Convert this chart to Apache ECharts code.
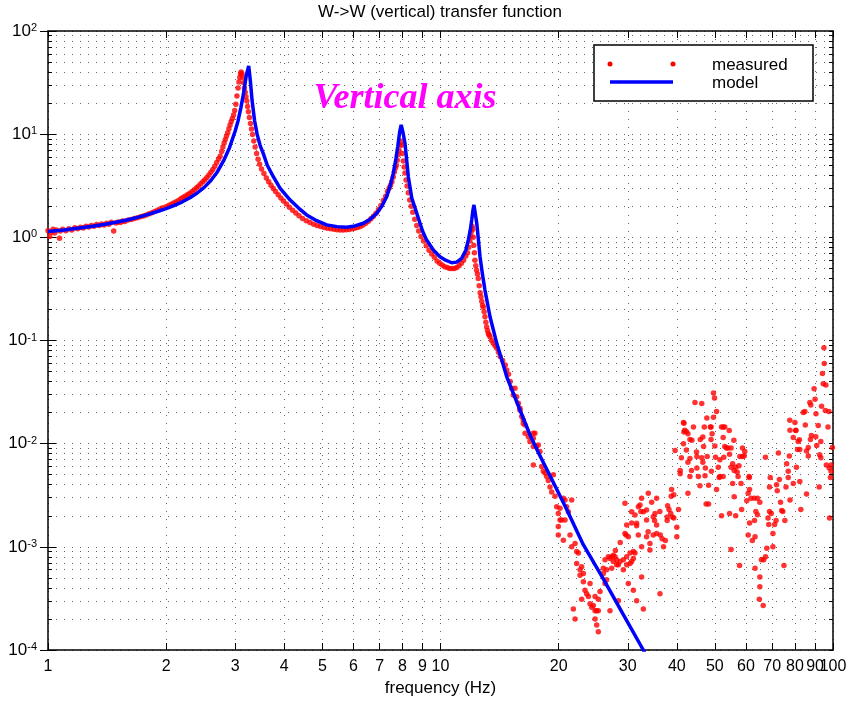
<!DOCTYPE html>
<html><head><meta charset="utf-8">
<script src="https://cdn.jsdelivr.net/npm/echarts@6/dist/echarts.min.js"></script>
<style>html,body{margin:0;padding:0;background:#fff}#c{width:856px;height:703px}</style>
</head><body><div id="c"></div>
<script>
// ---- tick values / labels ----
const xTickValues = [1,2,3,4,5,6,7,8,9,10,20,30,40,50,60,70,80,90,100];
const xTickLabels = ['1','2','3','4','5','6','7','8','9','10','20','30','40','50','60','70','80','90','100'];
const yDecadeExponents = [-4,-3,-2,-1,0,1,2];
const yMinorMultipliers = [2,3,4,5,6,7,8,9];

// ---- model curve [Hz, magnitude] ----
const modelCurve = [
[1.00,1.14],[1.10,1.18],[1.20,1.23],[1.30,1.28],[1.40,1.34],[1.50,1.41],[1.60,1.48],[1.70,1.57],[1.80,1.67],[1.90,1.78],
[2.00,1.90],[2.10,2.04],[2.20,2.21],[2.30,2.42],[2.40,2.69],[2.50,3.05],[2.60,3.55],[2.70,4.30],[2.80,5.5],[2.90,7.4],
[3.00,10.8],[3.05,13.5],[3.10,18.0],[3.15,25],[3.20,37],[3.246,45.8],[3.28,32],[3.31,21.4],[3.36,13.5],[3.41,10.0],
[3.47,7.8],[3.54,6.4],[3.62,5.0],[3.75,3.87],[3.90,3.0],[4.14,2.30],[4.35,1.92],[4.56,1.65],[4.80,1.47],[5.13,1.32],
[5.45,1.27],[5.77,1.25],[6.05,1.29],[6.36,1.37],[6.62,1.50],[6.88,1.71],[7.10,2.02],[7.29,2.47],[7.45,3.2],[7.58,4.17],
[7.70,5.8],[7.78,7.55],[7.87,10.5],[7.94,12.3],[8.02,10.5],[8.12,8.15],[8.20,5.6],[8.28,3.87],[8.45,2.40],[8.70,1.71],
[9.00,1.15],[9.22,0.94],[9.60,0.75],[9.97,0.648],[10.30,0.60],[10.68,0.567],[11.00,0.575],[11.32,0.626],[11.60,0.75],[11.77,0.94],
[11.92,1.2],[12.01,1.47],[12.10,1.85],[12.17,2.06],[12.25,1.75],[12.37,1.37],[12.50,0.92],[12.61,0.648],[12.80,0.43],[12.98,0.308],
[13.37,0.170],[13.91,0.0939],[14.75,0.0445],[15.94,0.0212],[16.90,0.0122],[17.75,0.0082],[19.39,0.0042],[20.97,0.0023],[23.11,0.00105],[25.99,0.00049],
[29.23,0.00022],[32.86,0.0001],[36.2,0.000048]
];

// ---- measured points [Hz, magnitude] ----
const measuredLow = [
[1.00,1.16],[1.01,1.02],[1.02,1.12],[1.03,1.20],[1.04,1.10],[1.05,1.18],[1.07,0.98],[1.075,1.15],[1.09,1.20],[1.11,1.16],[1.13,1.21],[1.15,1.18],[1.17,1.24],[1.19,1.21],[1.21,1.25],[1.23,1.23],[1.25,1.28],[1.27,1.26],[1.29,1.30],[1.31,1.28],[1.33,1.33],[1.35,1.30],[1.37,1.35],[1.39,1.32],[1.41,1.37],[1.43,1.34],[1.45,1.40],[1.47,1.15],[1.49,1.38],[1.51,1.41],[1.53,1.39],[1.55,1.44],[1.57,1.42],[1.60,1.47],[1.63,1.49],[1.66,1.52],[1.69,1.55],[1.72,1.58],[1.75,1.61],[1.78,1.65],[1.81,1.69],[1.84,1.73],[1.87,1.78],[1.90,1.83],[1.93,1.88],[1.96,1.93],
[2.00,1.98],[2.03,2.03],[2.06,2.09],[2.09,2.15],[2.12,2.21],[2.15,2.28],[2.18,2.36],[2.21,2.44],[2.24,2.52],[2.27,2.60],[2.30,2.67],[2.33,2.78],[2.36,2.90],[2.39,3.02],[2.42,3.15],[2.45,3.30],[2.48,3.46],[2.51,3.62],[2.54,3.80],[2.57,4.02],[2.60,4.27],[2.63,4.55],[2.66,4.90],[2.69,5.30],[2.72,5.75],[2.745,6.1],[2.77,6.8],[2.79,7.5],[2.81,8.2],[2.83,8.9],[2.85,9.6],[2.87,10.3],[2.89,11.3],[2.91,12.3],[2.93,13.3],[2.95,14.2],[2.97,15.3],[2.99,17.0],[3.01,19.5],[3.03,23.5],[3.05,28],[3.065,32],[3.08,35.5],[3.095,38.5],[3.105,40],[3.12,38.5],[3.135,35.5],[3.15,31.5],[3.165,28],[3.18,25.5],[3.195,23],[3.21,21],[3.225,18.5],[3.24,16.5],[3.26,14.5],[3.28,12.7],[3.30,11.2],[3.32,9.9],[3.345,8.6],[3.37,7.5],[3.40,6.5],[3.43,5.7],[3.46,5.1],[3.50,4.6],[3.55,4.15],[3.60,3.75],[3.65,3.45],[3.70,3.2],[3.75,2.98],[3.80,2.78],[3.86,2.58],[3.92,2.41],[3.98,2.25],[4.05,2.10],[4.12,1.96],[4.20,1.83],[4.28,1.72],[4.36,1.62],[4.45,1.52],[4.55,1.45],[4.65,1.39],[4.75,1.34],[4.85,1.30],[4.95,1.27],[5.05,1.245],[5.15,1.225],[5.25,1.21],[5.35,1.195],[5.45,1.185],[5.55,1.18],[5.65,1.18],[5.75,1.185],[5.85,1.19],[5.95,1.21],[6.05,1.225],[6.15,1.245],[6.25,1.275],[6.35,1.32],[6.45,1.37],[6.55,1.43],[6.65,1.51],[6.75,1.60],[6.85,1.71],[6.95,1.86],[7.05,2.04],[7.15,2.28],[7.25,2.5],[7.33,2.8],[7.40,3.0],[7.46,3.2],[7.52,3.45],[7.58,3.85],[7.63,4.3],[7.68,4.7],[7.72,5.0],[7.76,5.6],[7.80,6.3],[7.84,7.0],[7.88,7.9],[7.92,8.6],[7.96,7.8],[8.00,6.5],[8.04,5.5],[8.08,4.8],[8.12,4.2],[8.17,3.6],[8.22,3.15],[8.28,2.7],[8.35,2.3],[8.42,2.0],[8.50,1.75],[8.60,1.5],[8.70,1.3],[8.80,1.15],[8.92,1.02],[9.05,0.92],[9.20,0.83],[9.35,0.75],[9.50,0.69],[9.65,0.64],[9.80,0.59],[9.95,0.56],[10.10,0.54],[10.25,0.52],[10.40,0.51],[10.55,0.50],[10.70,0.50],[10.85,0.50],[11.00,0.51],[11.15,0.53],[11.30,0.56],[11.45,0.60],[11.60,0.66],[11.72,0.71],[11.80,0.80],[11.88,0.92],[11.94,1.03],[11.99,1.14],[12.04,1.28],[12.08,1.2],[12.12,1.0],[12.16,0.84],[12.20,0.71],[12.24,0.60],[12.30,0.53],[12.36,0.48],[12.42,0.44],[12.48,0.40],[12.55,0.34],[12.62,0.29],[12.68,0.265],[12.74,0.24],[12.80,0.22],[12.85,0.21],[12.92,0.19],[12.98,0.17],[13.05,0.15],[13.11,0.135],[13.18,0.125],[13.24,0.117],[13.30,0.113],[13.37,0.109],[13.50,0.10],[13.63,0.094],[13.77,0.089],[13.91,0.084]
];
const measuredRolloff = [
[14.05,0.077],[14.19,0.070],[14.40,0.064],[14.62,0.058],[14.75,0.0517],[14.90,0.047],[15.05,0.040],[15.18,0.0344],[15.33,0.0296],[15.48,0.0344],[15.63,0.0285],[15.79,0.0246],[15.94,0.022],[15.94,0.0211],[16.10,0.0183],[16.25,0.0157],[16.25,0.017],[16.42,0.0152],[16.42,0.0126],[16.74,0.0117],[16.90,0.0105],[17.24,0.0113],[17.24,0.0126],[17.40,0.0126],[17.24,0.0094],[17.58,0.0094],[17.75,0.0097],[17.92,0.0084],[17.24,0.0062],[18.10,0.0060],[18.28,0.0054],[18.46,0.0052],[18.64,0.0048],[18.82,0.0044],[19.01,0.0038],[19.20,0.0034],[19.39,0.0050],[19.58,0.0031],[19.77,0.00245],[19.96,0.0021],[20.16,0.00236],[20.56,0.00295],[20.76,0.00284],[20.96,0.00245],[21.17,0.00219],[21.59,0.00284],[20.16,0.00182],[20.36,0.00182],[20.76,0.00182],[19.96,0.00157],[19.96,0.0013],[20.56,0.00116],[21.38,0.0013],[21.59,0.0010],[22.02,0.00108],[22.23,0.0009],[22.45,0.00087],[22.23,0.00069],[22.67,0.0006],[22.89,0.00064],[22.67,0.00053],[23.12,0.00055],[23.12,0.00046],[23.34,0.00038],[23.57,0.00035],[24.04,0.00044],[23.81,0.00033],[24.04,0.00028],[24.28,0.00026],[24.51,0.00027],[24.76,0.00033],[25.24,0.00031],[24.76,0.00024],[25.0,0.00024],[25.24,0.00024],[24.76,0.0002],[25.0,0.000175],[25.24,0.00015],[22.02,0.0002],[21.80,0.00025],[22.89,0.00031],[25.49,0.00037],[26.25,0.00044],[25.99,0.00055],[25.99,0.00062],[26.25,0.00075],[26.77,0.0008],[27.03,0.00077],[27.30,0.0008],[27.56,0.00083],[27.84,0.0008],[28.11,0.00075],[28.39,0.00067],[28.67,0.00072],[29.23,0.00075],[29.81,0.0008],[30.4,0.00087],[31.0,0.0009],[31.0,0.00077],[29.81,0.00067],[29.23,0.0006],[30.1,0.00044],[31.0,0.00038],[31.6,0.0003],[32.87,0.00025],[28.39,0.0003],[27.03,0.00024],[29.51,0.00264],[30.69,0.00219],[31.3,0.00203],[31.92,0.00245],[32.23,0.00254],[32.54,0.00295],[32.87,0.00219],[33.5,0.00227],[33.84,0.0033],[34.51,0.0027],[34.84,0.00196],[35.19,0.00211],[35.53,0.00295],[33.5,0.00182],[31.6,0.00169],[29.81,0.00163],[29.51,0.00135],[30.1,0.00125],[31.92,0.0013],[33.5,0.00125],[34.17,0.00108],[34.17,0.00093],[34.84,0.0013],[35.53,0.00135],[35.53,0.00163],[32.54,0.001],[31.3,0.00087],[32.54,0.00051],[36.24,0.00035],[30.69,0.00072],[30.4,0.00069],[27.56,0.00072],[28.11,0.00067],[27.30,0.00062],[26.5,0.0006],[26.5,0.00048],
[27.9,0.00092],[28.7,0.0011],[29.7,0.0013],[30.7,0.0017],[31.6,0.0016],[32.4,0.0022],[33.8,0.0014],[35.1,0.0018]
];
const measuredHigh = [
[36.3,1.3e-3],[36.7,1.2e-3],[37.0,1.0e-3],[37.4,1.15e-3],[37.8,1.95e-3],[37.8,1.8e-3],[38.2,2.3e-3],[38.6,2.1e-3],[39.0,1.95e-3],[39.3,1.9e-3],[38.7,3.1e-3],[39.3,3.2e-3],[40.0,1.55e-3],[40.0,1.25e-3],[39.6,8.6e-3],[40.4,2.3e-3],
[36.2,2.2e-3],[37.9,2.5e-3],[38.8,3.6e-3],[40.8,5.5e-3],
[40.8,5.1e-3],[41.1,7.3e-3],[41.6,1.0e-2],[41.9,1.35e-2],[42.7,1.25e-2],[43.2,1.1e-2],[41.6,1.6e-2],[41.7,1.3e-2],[42.3,8.7e-3],[42.7,6.6e-3],[42.7,3.3e-3],[43.2,4.8e-3],[43.6,5.5e-3],[44.1,1.45e-2],[44.5,2.5e-2],[45.0,5.8e-3],[45.0,7.5e-3],[45.4,4.8e-3],[45.9,1.1e-2],[46.3,2.45e-2],[46.3,7.3e-3],[46.8,9.4e-3],[47.0,1.45e-2],[47.3,5.8e-3],[47.5,2.6e-3],[47.8,7.5e-3],[48.2,2.6e-3],[48.2,3.95e-3],[48.7,1.45e-2],[48.9,1.1e-2],[49.2,1.25e-2],[49.6,1.8e-2],[49.6,3.1e-2],[50.0,9.5e-3],[50.5,2.05e-2],[50.5,3.6e-3],[51.0,5.9e-3],[51.5,4.8e-3],[52.0,2.0e-3],[52.0,1.45e-2],[52.5,1.45e-2],[52.5,1.15e-2],[53.0,1.45e-2],[51.5,7e-3],[52.5,4.8e-3],[53.0,9.4e-3],[53.5,9.1e-3],[54.0,9.1e-3],[54.5,7.9e-3],[55.0,9.1e-3],[55.5,6.4e-3],[55.0,5.9e-3],[55.5,4.1e-3],[56.0,5.5e-3],[56.5,5.9e-3],[57.0,5.3e-3],[57.3,4.8e-3],[57.9,7.5e-3],[58.3,4.1e-3],[58.8,7.5e-3],[58.8,9.1e-3],[59.6,8.4e-3],[55.0,9.4e-4],[57.8,6.6e-4],[54.5,2.1e-3],[56.5,2.0e-3],[56.0,3.05e-3],[58.5,2.3e-3],
[41.7,1.58e-2],[42.3,1.31e-2],[43.7,1.08e-2],[44.9,8.3e-3],[46.6,1.16e-2],[47.7,1.77e-2],[48.9,1.45e-2],[49.9,2.77e-2],[46.6,6.6e-3],[43.2,7.2e-3],[45.8,3.9e-3],[47.2,4.9e-3],[49.0,5.4e-3],[50.2,7.4e-3],[51.3,4.7e-3],[52.7,7.4e-3],[54.4,1.34e-2],[55.9,1.08e-2],[57.6,6.1e-3],[59.4,7.6e-3],
[60.3,2.8e-3],[60.8,3.3e-3],[61.3,3.6e-3],[61.1,4.8e-3],[61.8,2.95e-3],[63.0,2.95e-3],[64.2,2.95e-3],[63.6,2.2e-3],[64.2,2.05e-3],[61.3,1.7e-3],[60.8,1.3e-3],[62.3,1.15e-3],[63.3,1.25e-3],[65.1,5.1e-4],[65.1,4.1e-4],[64.9,3.1e-4],[66.4,2.7e-4],[63.3,6.2e-4],[65.7,7.5e-4],[66.6,7.5e-4],[67.3,8e-4],[67.8,9.7e-4],[68.3,1.9e-3],[68.6,1.65e-3],[68.9,3.8e-3],[68.9,2.2e-3],[69.6,2.1e-3],[70.3,1.0e-3],[71.0,1.65e-3],[70.3,1.35e-3],[71.8,4.0e-3],[72.1,3.5e-3],[73.0,4.5e-3],[72.6,8.1e-3],[74.0,2.25e-3],[74.5,2.2e-3],[75.4,1.8e-3],[75.0,6.6e-4],[76.2,6.4e-3],[76.9,5.4e-3],[76.9,4.7e-3],[77.4,7.6e-3],[77.7,2.85e-3],[77.7,1.35e-2],[79.2,1.15e-2],[79.2,4.1e-3],[80.0,1.6e-2],[80.4,1.35e-2],[80.7,5.9e-3],[81.2,8.8e-3],[81.5,1.05e-2],[82.3,8.8e-3],[82.3,4.3e-3],[82.8,2.3e-3],[84.0,2.0e-2],[84.8,2.05e-2],[85.6,8.5e-3],[85.6,3.25e-3],[86.5,9.2e-3],[86.5,7.6e-3],[87.3,2.5e-2],[87.6,1.1e-2],[88.1,1.2e-2],[89.5,3.4e-2],[90.0,2.7e-2],[90.5,1.95e-2],[90.9,9.6e-3],[91.7,1.5e-2],[92.2,3.8e-3],[93.1,1.05e-2],[93.1,7.3e-3],[93.5,2.3e-2],[94.0,4.8e-2],[94.4,3.8e-2],[94.8,8.5e-2],[95.0,6.0e-2],[95.9,3.7e-2],[96.2,6.2e-3],[97.1,1.45e-2],[97.6,2.05e-2],[98.0,1.9e-3],[98.5,4.7e-3],[98.9,6.2e-3],[98.9,5.4e-3],[99.6,9.2e-3],
[61.2,4.7e-3],[63.1,1.8e-3],[65.1,2.7e-3],[67.3,7.4e-3],[69.2,4.7e-3],[71.6,1.8e-3],[73.5,2.7e-3],[75.9,3.8e-3],[77.6,1.69e-2],[80.4,1.34e-2],[82.1,1.09e-2],[85.0,1.52e-2],[87.8,2.37e-2],[90.4,1.17e-2],[92.5,7.8e-3],[95.6,2.1e-2],[97.8,5.8e-3]
];

// ---- build ----
const FONT = '"Liberation Sans", Arial, sans-serif';
const toLog = p => [Math.log10(p[0]), Math.log10(p[1])];
const xLog = xTickValues.map(v => Math.log10(v));
const xLabelLogMain = xLog.slice(0, -1);   // 1 ... 90
const xLabelLogLast = xLog.slice(-1);      // 100 (own axis so the overlapping labels are all kept)
const yMajorLog = yDecadeExponents.slice();
const yAllLog = yDecadeExponents.slice();
yDecadeExponents.slice(0, -1).forEach(d => yMinorMultipliers.forEach(k => yAllLog.push(d + Math.log10(k))));
yAllLog.sort((a, b) => a - b);
const labelMap = {};
xTickValues.forEach((v, i) => { labelMap[v] = xTickLabels[i]; });
const xFmt = v => labelMap[Math.round(Math.pow(10, v))] || '';

const gridDots = { show: true, lineStyle: { color: '#000', width: 1, type: [1, 7], opacity: 0.6 } };
const frame = { show: true, onZero: false, lineStyle: { color: '#000', width: 1.5 } };
const noLabel = { show: false };
const xLabelStyle = { margin: 9, fontSize: 16, color: '#000', fontFamily: FONT, hideOverlap: false };

const chart = echarts.init(document.getElementById('c'), null, { renderer: 'canvas' });
chart.setOption({
  animation: false,
  backgroundColor: '#fff',
  grid: { left: 48, right: 23, top: 31, bottom: 53, containLabel: false, outerBoundsMode: 'none' },
  xAxis: [
    { type: 'value', min: 0, max: 2, position: 'bottom',
      axisLine: frame,
      axisTick: { show: true, inside: true, length: 7, customValues: xLog, lineStyle: { color: '#000', width: 1 } },
      axisLabel: Object.assign({ show: true, customValues: xLabelLogMain, formatter: xFmt }, xLabelStyle),
      splitLine: gridDots,
      name: 'frequency (Hz)', nameLocation: 'middle', nameGap: 28,
      nameTextStyle: { fontSize: 17, color: '#000', fontFamily: FONT } },
    { type: 'value', min: 0, max: 2, position: 'top',
      axisLine: frame,
      axisTick: { show: true, inside: true, length: 7, customValues: xLog, lineStyle: { color: '#000', width: 1 } },
      axisLabel: noLabel, splitLine: { show: false } },
    { type: 'value', min: 0, max: 2, position: 'bottom',
      axisLine: { show: false }, axisTick: { show: false },
      axisLabel: Object.assign({ show: true, customValues: xLabelLogLast, formatter: xFmt }, xLabelStyle),
      splitLine: { show: false } }
  ],
  yAxis: [
    { type: 'value', min: -4, max: 2, position: 'left',
      axisLine: frame,
      axisTick: { show: true, inside: true, length: 4, customValues: yAllLog, lineStyle: { color: '#000', width: 1 } },
      axisLabel: { show: true, customValues: yMajorLog, margin: 11, color: '#000',
        hideOverlap: false, showMinLabel: true, showMaxLabel: true,
        formatter: v => '{b|10}{s|' + Math.round(v) + '}',
        rich: { b: { fontSize: 17, fontFamily: FONT, color: '#000' },
                s: { fontSize: 11, fontFamily: FONT, color: '#000', verticalAlign: 'top' } } },
      splitLine: gridDots,
      name: '|W/W|', nameLocation: 'middle', nameRotate: 90, nameGap: 52,
      nameTextStyle: { fontSize: 16, color: '#000', fontFamily: FONT } },
    { type: 'value', min: -4, max: 2, position: 'left',
      axisLine: { show: false },
      axisTick: { show: true, inside: true, length: 8, customValues: yMajorLog, lineStyle: { color: '#000', width: 1 } },
      axisLabel: noLabel, splitLine: { show: false } },
    { type: 'value', min: -4, max: 2, position: 'right',
      axisLine: frame,
      axisTick: { show: true, inside: true, length: 4, customValues: yAllLog, lineStyle: { color: '#000', width: 1 } },
      axisLabel: noLabel, splitLine: { show: false } },
    { type: 'value', min: -4, max: 2, position: 'right',
      axisLine: { show: false },
      axisTick: { show: true, inside: true, length: 8, customValues: yMajorLog, lineStyle: { color: '#000', width: 1 } },
      axisLabel: noLabel, splitLine: { show: false } }
  ],
  series: [
    { name: 'measured', type: 'scatter', xAxisIndex: 0, yAxisIndex: 0, z: 2, silent: true,
      symbol: 'circle', symbolSize: 5.5, itemStyle: { color: '#ff0000' },
      data: measuredLow.concat(measuredRolloff, measuredHigh).map(toLog) },
    { name: 'model', type: 'line', xAxisIndex: 0, yAxisIndex: 0, z: 3, silent: true,
      showSymbol: false, symbol: 'none', clip: true,
      lineStyle: { color: '#0000ff', width: 3.5 },
      data: modelCurve.map(toLog) }
  ],
  graphic: [
    { type: 'text', x: 440, y: 12, z: 100,
      style: { text: 'W->W (vertical) transfer function', fill: '#000', font: '17px ' + FONT, align: 'center', verticalAlign: 'middle' } },
    { type: 'text', x: 405, y: 99, z: 100,
      style: { text: 'Vertical axis', fill: '#ff00ff', font: 'italic bold 36px "Liberation Serif", "Times New Roman", serif', align: 'center', verticalAlign: 'middle' } },
    { type: 'rect', z: 100, shape: { x: 594, y: 45, width: 219, height: 56 },
      style: { fill: '#fff', stroke: '#000', lineWidth: 1.5 } },
    { type: 'circle', z: 101, shape: { cx: 610, cy: 64, r: 2.5 }, style: { fill: '#ff0000' } },
    { type: 'circle', z: 101, shape: { cx: 673, cy: 64, r: 2.5 }, style: { fill: '#ff0000' } },
    { type: 'line', z: 101, shape: { x1: 610, y1: 82, x2: 673, y2: 82 }, style: { stroke: '#0000ff', lineWidth: 3.5 } },
    { type: 'text', z: 101, x: 712, y: 65,
      style: { text: 'measured', fill: '#000', font: '17px ' + FONT, align: 'left', verticalAlign: 'middle' } },
    { type: 'text', z: 101, x: 712, y: 83,
      style: { text: 'model', fill: '#000', font: '17px ' + FONT, align: 'left', verticalAlign: 'middle' } }
  ]
});
</script>
</body></html>
